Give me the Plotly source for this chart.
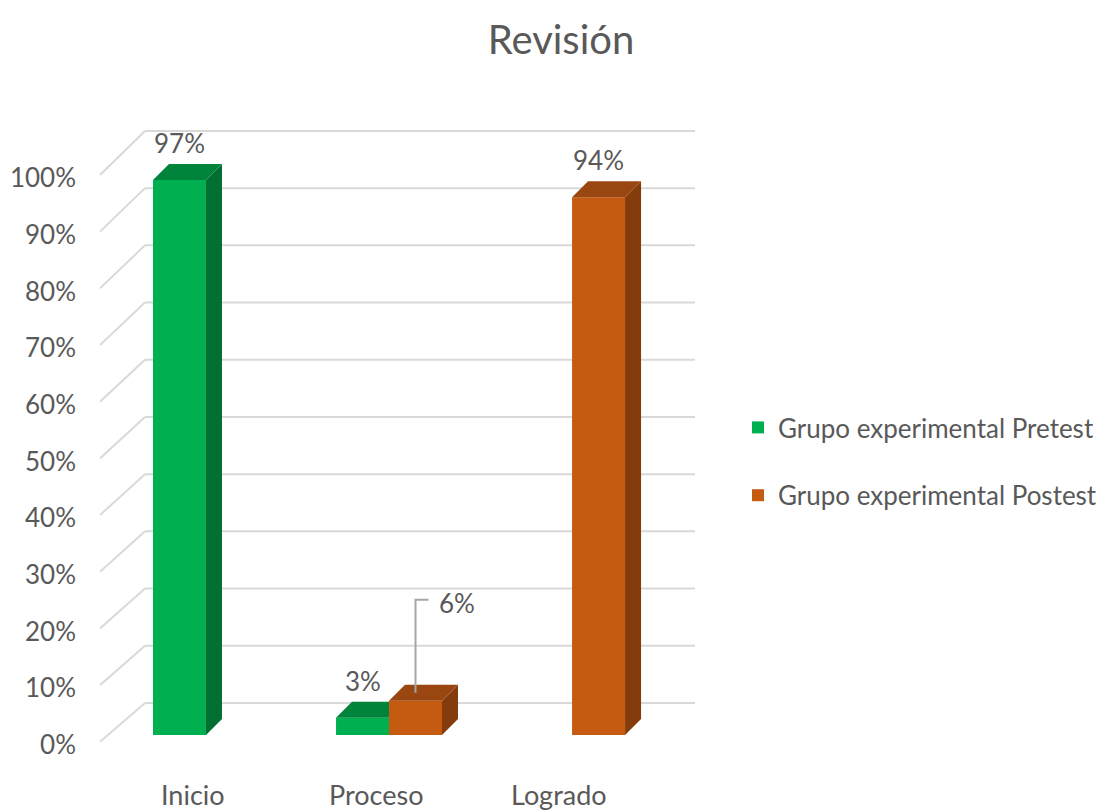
import plotly.graph_objects as go

# ---------------- data ----------------
categories = ["Inicio", "Proceso", "Logrado"]
pretest = [0.97, 0.03, 0.0]
postest = [0.0, 0.06, 0.94]
series_names = ["Grupo experimental Pretest", "Grupo experimental Postest"]
y_ticks = [0.0, 0.1, 0.2, 0.3, 0.4, 0.5, 0.6, 0.7, 0.8, 0.9, 1.0]
title_text = "Revisión"

# ---------------- style ----------------
FONT = "Lato, sans-serif"
TXT = "#595959"
GRID = "#D9D9D9"
colors_front = ["#00B050", "#C55A11"]
colors_top = ["#00843C", "#9A4610"]
colors_side = ["#006F31", "#843C0C"]

OFF = 8                          # page body margin of the browser
W, H = 1110 - OFF, 811 - OFF
PX_L, PX_R = 100 - OFF, 700 - OFF   # plot area (pixels)
PX_T, PX_B = 100 - OFF, 780 - OFF
X_RANGE = [-0.579, 2.699]
Y_RANGE = [-0.0787, 1.110]      # bar plane
Y2_RANGE = [-0.0617, 1.1376]    # front (label) plane
BARGAP = 0.421
BW = (1 - BARGAP) / 2           # width of one bar in category units

# projection helpers (depth vectors in axis units)
px_x = (PX_R - PX_L) / (X_RANGE[1] - X_RANGE[0])
px_y = (PX_B - PX_T) / (Y_RANGE[1] - Y_RANGE[0])
DX = 16 / px_x
DY = 16 / px_y
BACK_DY = 32 / px_y
GRID_X0 = X_RANGE[0]
GRID_X1 = 45 / px_x + X_RANGE[0]
GRID_X2 = 595 / px_x + X_RANGE[0]

fig = go.Figure()
shapes = []

# back wall gridlines with slanted floor edges (below the bars)
for t in y_ticks:
    yb = t + BACK_DY
    yf = t * 0.991 - 0.012
    shapes.append(dict(type="line", xref="x", yref="y", x0=GRID_X0, y0=yf, x1=GRID_X1, y1=yb,
                       line=dict(color=GRID, width=2), layer="below"))
    shapes.append(dict(type="line", xref="x", yref="y", x0=GRID_X1, y0=yb, x1=GRID_X2, y1=yb,
                       line=dict(color=GRID, width=2), layer="below"))

# front faces (real bars)
for k, (name, vals) in enumerate(zip(series_names, [pretest, postest])):
    fig.add_trace(go.Bar(name=name, x=list(range(len(categories))), y=vals,
                         marker=dict(color=colors_front[k], line=dict(width=0)),
                         legendgroup=name, offsetgroup=str(k)))

# 3D faces computed from data
all_series = [pretest, postest]
for k, vals in enumerate(all_series):
    for i, v in enumerate(vals):
        if v <= 0:
            continue
        xl = i - BW + k * BW
        xr = xl + BW
        clip = (k == 0 and postest[i] >= v + DY)
        if clip:
            tx = [xl, xl + DX, xr, xr, xl]
            ty = [v, v + DY, v + DY, v, v]
        else:
            tx = [xl, xl + DX, xr + DX, xr, xl]
            ty = [v, v + DY, v + DY, v, v]
            sx = [xr, xr, xr + DX, xr + DX, xr]
            sy = [0, v, v + DY, DY, 0]
            fig.add_trace(go.Scatter(x=sx, y=sy, mode="lines", fill="toself",
                                     fillcolor=colors_side[k], line=dict(width=0),
                                     hoverinfo="skip", showlegend=False))
        fig.add_trace(go.Scatter(x=tx, y=ty, mode="lines", fill="toself",
                                 fillcolor=colors_top[k], line=dict(width=0),
                                 hoverinfo="skip", showlegend=False))

# data labels
annotations = []
for k, vals in enumerate(all_series):
    for i, v in enumerate(vals):
        if v <= 0:
            continue
        xc = i - BW / 2 + k * BW
        label = f"{round(v * 100)}%"
        if k == 1 and i == 1:
            # moved label with leader line
            top = v + 101 / px_y
            fig.add_trace(go.Scatter(x=[xc, xc, xc + 0.071], y=[v + 8 / px_y, top, top],
                                     mode="lines", line=dict(color="#A6A6A6", width=2),
                                     hoverinfo="skip", showlegend=False))
            annotations.append(dict(x=xc + 0.115, y=top, xref="x", yref="y", text=label,
                                    showarrow=False, xanchor="left", yanchor="middle",
                                    yshift=-3, font=dict(family=FONT, size=26, color=TXT)))
        else:
            annotations.append(dict(x=xc, y=v, xref="x", yref="y", text=label,
                                    showarrow=False, xanchor="center", yanchor="middle",
                                    yshift=37, font=dict(family=FONT, size=26, color=TXT)))

# category labels
for i, c in enumerate(categories):
    annotations.append(dict(x=i, y=1 - (794 - OFF) / H, xref="x", yref="paper", text=c,
                            xshift=-13, showarrow=False, xanchor="center", yanchor="middle",
                            font=dict(family=FONT, size=27, color=TXT)))

fig.update_layout(
    width=W, height=H,
    margin=dict(l=0, r=0, t=0, b=0, autoexpand=False),
    paper_bgcolor="white", plot_bgcolor="white",
    barmode="group", bargap=BARGAP, bargroupgap=0,
    title=dict(text=title_text, x=(561 - OFF) / W, xanchor="center",
               y=1 - (40 - OFF) / H, yanchor="middle",
               font=dict(family=FONT, size=40, color=TXT)),
    xaxis=dict(domain=[PX_L / W, PX_R / W], range=X_RANGE, visible=False),
    yaxis=dict(domain=[1 - PX_B / H, 1 - PX_T / H], range=Y_RANGE, visible=False),
    yaxis2=dict(overlaying="y", anchor="free", position=(76 - OFF) / W, side="left",
                range=Y2_RANGE, tickvals=y_ticks, tickformat=".0%",
                showgrid=False, zeroline=False, showline=False, ticks="",
                tickfont=dict(family=FONT, size=26, color=TXT)),
    legend=dict(x=(738 - OFF) / W, y=1 - (404 - OFF) / H, xanchor="left", yanchor="top",
                font=dict(family=FONT, size=26, color=TXT), tracegroupgap=31,
                bgcolor="rgba(0,0,0,0)"),
    annotations=annotations,
    shapes=shapes,
    showlegend=True,
)
# invisible trace attached to yaxis2 so its tick labels render
fig.add_trace(go.Scatter(x=[0], y=[0], yaxis="y2", mode="markers", marker=dict(opacity=0),
                         hoverinfo="skip", showlegend=False))

fig.write_html("out.html")
